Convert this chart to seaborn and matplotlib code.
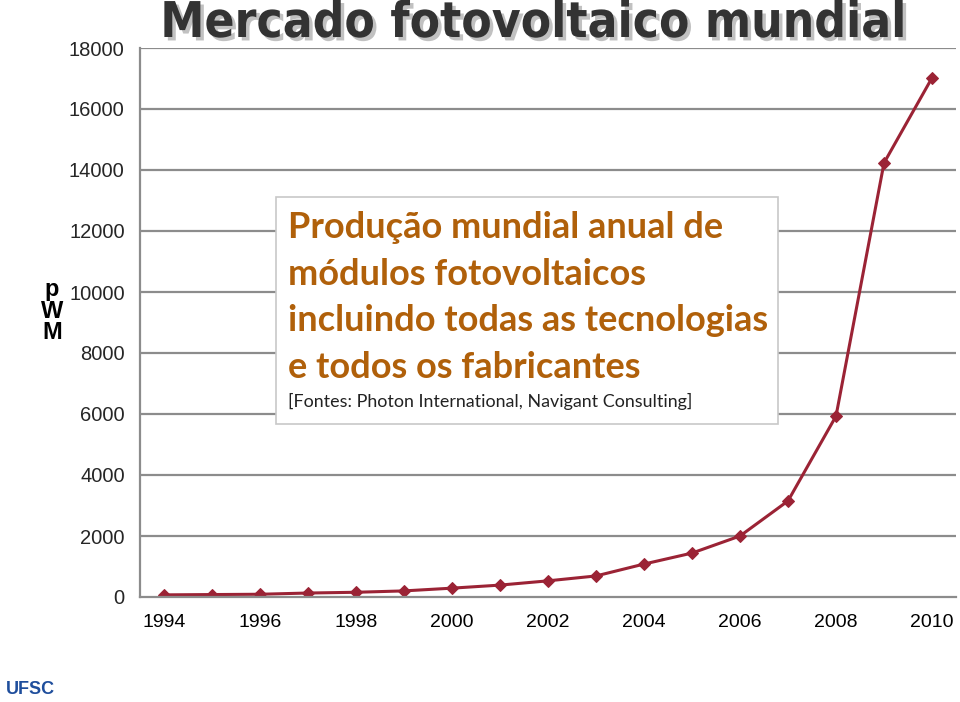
import matplotlib
matplotlib.use("Agg")
import matplotlib.pyplot as plt
import matplotlib.patheffects as pe
import seaborn as sns
import pandas as pd

# Annual PV module production (MWp)
years = [1994, 1995, 1996, 1997, 1998, 1999, 2000, 2001, 2002,
         2003, 2004, 2005, 2006, 2007, 2008, 2009, 2010]
production = [70, 80, 90, 130, 155, 200, 290, 390, 530,
              690, 1080, 1440, 2000, 3150, 5930, 14230, 17020]
y_ticks = [0, 2000, 4000, 6000, 8000, 10000, 12000, 14000, 16000, 18000]
x_labels = [1994, 1996, 1998, 2000, 2002, 2004, 2006, 2008, 2010]

title = "Mercado fotovoltaico mundial"
box_lines = ["Produção mundial anual de", "módulos fotovoltaicos",
             "incluindo todas as tecnologias", "e todos os fabricantes"]
source = "[Fontes: Photon International, Navigant Consulting]"

sns.set_theme(style="white")
plt.rcParams['font.family'] = ['Liberation Sans', 'DejaVu Sans']

df = pd.DataFrame({'Ano': years, 'MWp': production})

fig = plt.figure(figsize=(9.6, 7.02), dpi=100)
ax = fig.add_axes([140 / 960, 1 - 597 / 702, 816 / 960, 549 / 702])

line_color = "#9B2335"
sns.lineplot(data=df, x='Ano', y='MWp', ax=ax, color=line_color, linewidth=2.2,
             marker='D', markersize=6.5, markeredgecolor=line_color)

ax.set_xlim(1993.5, 2010.5)
ax.set_ylim(0, 18000)
ax.set_yticks(y_ticks)
ax.set_yticklabels([str(v) for v in y_ticks], fontsize=14.5)
ax.set_xticks(x_labels)
ax.set_xticklabels([str(v) for v in x_labels], fontsize=14)
ax.set_xticks([y - 0.5 for y in years] + [2010.5], minor=True)
ax.tick_params(axis='x', which='major', length=0, pad=12, colors='black')
ax.tick_params(axis='x', which='minor', length=6, direction='out', color='#888888', width=1.2)
ax.tick_params(axis='y', which='major', length=7, direction='out', color='#888888',
               width=1.2, pad=4)
ax.set_xlabel('')
ax.set_ylabel('')

for v in y_ticks[1:]:
    ax.axhline(v, color='#8c8c8c', linewidth=1.6, zorder=0)

for side in ['top', 'right']:
    ax.spines[side].set_visible(False)
for side in ['left', 'bottom']:
    ax.spines[side].set_color('#8c8c8c')
    ax.spines[side].set_linewidth(1.6)

# stacked unit label
fig.text(52 / 960, 1 - 311 / 702, "p\nW\nM", ha='center', va='center',
         fontsize=17, fontweight='bold', linespacing=0.9, color='black')

# title with shadow
fig.text(533 / 960, 1 - 23 / 702, title, ha='center', va='center',
         fontsize=35.5, fontweight='bold', color='#333333', fontstretch='condensed',
         family=['Liberation Sans Narrow', 'DejaVu Sans'],
         path_effects=[pe.SimplePatchShadow(offset=(2.5, -2.5), shadow_rgbFace='#999999', alpha=0.6),
                       pe.Normal()])

# annotation box
box = plt.Rectangle((276 / 960, 1 - 424 / 702), 502 / 960, 227 / 702,
                    transform=fig.transFigure, facecolor='white',
                    edgecolor='#c8c8c8', linewidth=1.2, zorder=5)
fig.patches.append(box)
box_color = "#B0600A"
for i, txt in enumerate(box_lines):
    fig.text(288 / 960, 1 - (228 + i * 46.5) / 702, txt, ha='left', va='center',
             fontsize=26, fontweight='bold', color=box_color,
             family=['Lato', 'DejaVu Sans'], zorder=6)
fig.text(288 / 960, 1 - 401 / 702, source, ha='left', va='center',
         fontsize=12.9, color='#222222', family=['Lato', 'DejaVu Sans'], zorder=6)

# logo text
fig.text(30 / 960, 1 - 689 / 702, "UFSC", ha='center', va='center',
         fontsize=13, fontweight='bold', color='#1F4E9C')

fig.savefig('out.png', dpi=100)
